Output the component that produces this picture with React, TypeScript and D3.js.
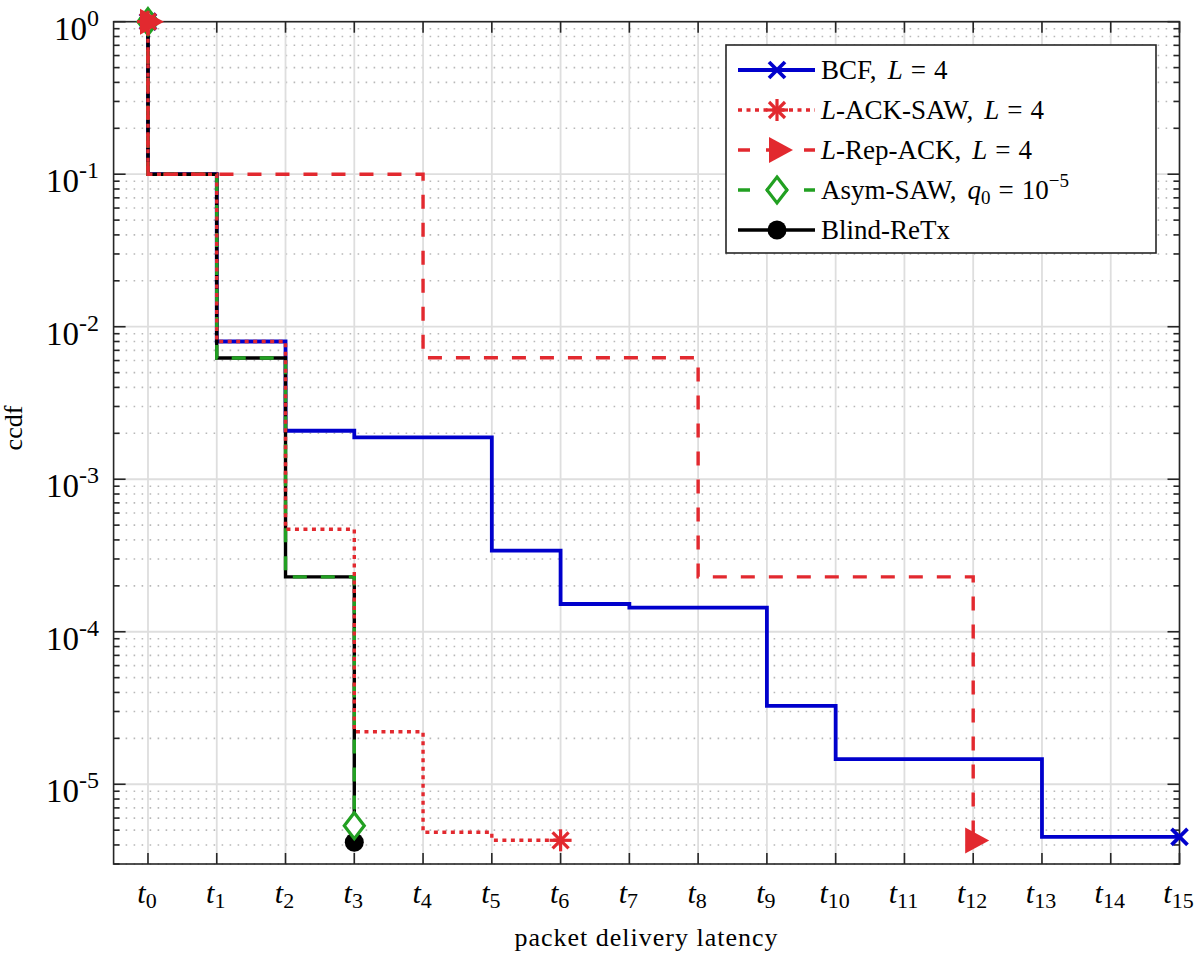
import React from 'react';
import * as d3 from 'd3';

// x tick indices t_0 ... t_15
const xTicks = [0, 1, 2, 3, 4, 5, 6, 7, 8, 9, 10, 11, 12, 13, 14, 15];
// y decades (exponents)
const yDecades = [0, -1, -2, -3, -4, -5];

// ccdf values; each value holds from t_i to t_(i+1); the curve starts at (t_0, 1)
const bcfValues = [0.1, 8.0e-3, 2.08e-3, 1.88e-3, 1.88e-3, 3.4e-4, 1.52e-4, 1.44e-4, 1.44e-4, 3.27e-5, 1.46e-5, 1.46e-5, 1.46e-5, 4.52e-6, 4.52e-6, 4.52e-6];
const lAckSawValues = [0.1, 8.0e-3, 4.7e-4, 2.21e-5, 4.84e-6, 4.29e-6, 4.29e-6];
const lRepAckValues = [0.1, 0.1, 0.1, 0.1, 6.26e-3, 6.26e-3, 6.26e-3, 6.26e-3, 2.29e-4, 2.29e-4, 2.29e-4, 2.29e-4, 4.27e-6];
const asymSawValues = [0.1, 6.24e-3, 2.29e-4, 5.35e-6];
const blindValues = [0.1, 6.24e-3, 2.29e-4, 4.17e-6];

const BLUE = '#0000CC';
const RED = '#E2292F';
const GREEN = '#22A022';
const BLACK = '#000000';
const AXIS = '#262626';

type Marker = 'x' | 'asterisk' | 'triangle' | 'diamond' | 'circle';

interface Series {
  key: string;
  values: number[];
  color: string;
  dash: string | undefined;
  width: number;
  marker: Marker;
}

// drawing order (later on top)
const drawOrder: Series[] = [
  { key: 'bcf', values: bcfValues, color: BLUE, dash: undefined, width: 3.8, marker: 'x' },
  { key: 'blind', values: blindValues, color: BLACK, dash: undefined, width: 3.4, marker: 'circle' },
  { key: 'asym', values: asymSawValues, color: GREEN, dash: '14,14', width: 3.4, marker: 'diamond' },
  { key: 'lack', values: lAckSawValues, color: RED, dash: '4,4.5', width: 3.4, marker: 'asterisk' },
  { key: 'lrep', values: lRepAckValues, color: RED, dash: '14,14', width: 3.4, marker: 'triangle' },
];

function drawMarker(type: Marker, cx: number, cy: number, color: string, k: string) {
  switch (type) {
    case 'x':
      return (
        <g key={k} stroke={color} strokeWidth={3.8} strokeLinecap="butt">
          <line x1={cx - 8} y1={cy - 8} x2={cx + 8} y2={cy + 8} />
          <line x1={cx - 8} y1={cy + 8} x2={cx + 8} y2={cy - 8} />
        </g>
      );
    case 'asterisk':
      return (
        <g key={k} stroke={color} strokeWidth={3.2}>
          <line x1={cx - 11} y1={cy} x2={cx + 11} y2={cy} />
          <line x1={cx} y1={cy - 11} x2={cx} y2={cy + 11} />
          <line x1={cx - 8} y1={cy - 8} x2={cx + 8} y2={cy + 8} />
          <line x1={cx - 8} y1={cy + 8} x2={cx + 8} y2={cy - 8} />
        </g>
      );
    case 'triangle':
      return (
        <polygon key={k} points={`${cx - 8},${cy - 13} ${cx + 16},${cy} ${cx - 8},${cy + 13}`} fill={color} />
      );
    case 'diamond':
      return (
        <polygon
          key={k}
          points={`${cx},${cy - 13} ${cx + 10},${cy} ${cx},${cy + 13} ${cx - 10},${cy}`}
          fill="#ffffff"
          stroke={color}
          strokeWidth={3.2}
        />
      );
    case 'circle':
      return <circle key={k} cx={cx} cy={cy} r={9.5} fill={color} />;
  }
}

export default function App() {
  const W = 1198;
  const H = 953;
  const left = 113.6;
  const right = 1179.5;
  const top = 21.7;
  const bottom = 864;

  const x = d3.scaleLinear().domain([-0.5, 15]).range([left, right]);
  const y = d3.scaleLog().domain([3e-6, 1]).range([bottom, top]);

  const line = d3
    .line<[number, number]>()
    .x((d) => x(d[0]))
    .y((d) => y(d[1]))
    .curve(d3.curveStepAfter);

  const pointsOf = (vals: number[]): [number, number][] => [
    [0, 1] as [number, number],
    ...vals.map((v, i) => [i, v] as [number, number]),
  ];

  // minor y values
  const minorVals: number[] = [];
  for (let d = -6; d <= 0; d++) {
    for (let m = 2; m <= 9; m++) {
      const v = m * Math.pow(10, d);
      if (v > 3e-6 && v < 1) minorVals.push(v);
    }
  }
  minorVals.push(3e-6);

  const serif = "'Liberation Serif', 'DejaVu Serif', 'Times New Roman', serif";

  // legend
  const legX = 726;
  const legY = 45;
  const legW = 430;
  const legH = 208;
  const rowY = [70, 110, 150, 190, 230];
  const lx1 = 738;
  const lx2 = 815;
  const lmx = 777;
  const tx = 821;
  const legendFs = 27;

  const legendSeries: Series[] = [drawOrder[0], drawOrder[3], drawOrder[4], drawOrder[2], drawOrder[1]];

  const eqL = (k: string) => [
    <tspan key={`${k}a`} fontStyle="italic" dx={11}>L</tspan>,
    <tspan key={`${k}b`} dx={8}>=</tspan>,
    <tspan key={`${k}c`} dx={8}>4</tspan>,
  ];

  const legendTexts = [
    <text key="t0" x={tx} y={rowY[0] + 9} fontSize={legendFs} fontFamily={serif}>
      <tspan>BCF,</tspan>
      {eqL('r0')}
    </text>,
    <text key="t1" x={tx} y={rowY[1] + 9} fontSize={legendFs} fontFamily={serif}>
      <tspan fontStyle="italic">L</tspan>
      <tspan>-ACK-SAW,</tspan>
      {eqL('r1')}
    </text>,
    <text key="t2" x={tx} y={rowY[2] + 9} fontSize={legendFs} fontFamily={serif}>
      <tspan fontStyle="italic">L</tspan>
      <tspan>-Rep-ACK,</tspan>
      {eqL('r2')}
    </text>,
    <text key="t3" x={tx} y={rowY[3] + 9} fontSize={legendFs} fontFamily={serif}>
      <tspan>Asym-SAW,</tspan>
      <tspan fontStyle="italic" dx={11}>q</tspan>
      <tspan fontSize={19} dy={5}>0</tspan>
      <tspan dy={-5} dx={8}>=</tspan>
      <tspan dx={8}>10</tspan>
      <tspan fontSize={19} dy={-12}>−5</tspan>
    </text>,
    <text key="t4" x={tx} y={rowY[4] + 9} fontSize={legendFs} fontFamily={serif}>
      Blind-ReTx
    </text>,
  ];

  return (
    <svg
      width={W}
      height={H}
      style={{ position: 'absolute', left: 0, top: 0, background: '#ffffff' }}
      xmlns="http://www.w3.org/2000/svg"
    >
      <rect x={0} y={0} width={W} height={H} fill="#ffffff" />
      {/* minor y grid (dotted) */}
      <g stroke="#b8b8b8" strokeWidth={1.6} strokeDasharray="1.6,6.4">
        {minorVals.map((v, i) => (
          <line key={`mg${i}`} x1={left + 4} x2={right} y1={y(v)} y2={y(v)} />
        ))}
      </g>
      {/* major grid */}
      <g stroke="#dedede" strokeWidth={1.8}>
        {xTicks.map((t) => (
          <line key={`gx${t}`} x1={x(t)} x2={x(t)} y1={top} y2={bottom} />
        ))}
        {yDecades.map((d) => (
          <line key={`gy${d}`} x1={left} x2={right} y1={y(Math.pow(10, d))} y2={y(Math.pow(10, d))} />
        ))}
      </g>

      {/* axes box and ticks */}
      <g stroke={AXIS} strokeWidth={1.6}>
        {xTicks.map((t) => (
          <g key={`tx${t}`}>
            <line x1={x(t)} x2={x(t)} y1={bottom} y2={bottom - 11} />
            <line x1={x(t)} x2={x(t)} y1={top} y2={top + 11} />
          </g>
        ))}
        {yDecades.map((d) => (
          <g key={`ty${d}`}>
            <line x1={left} x2={left + 12} y1={y(Math.pow(10, d))} y2={y(Math.pow(10, d))} />
            <line x1={right} x2={right - 12} y1={y(Math.pow(10, d))} y2={y(Math.pow(10, d))} />
          </g>
        ))}
        {minorVals.map((v, i) => (
          <g key={`mt${i}`}>
            <line x1={left} x2={left + 6} y1={y(v)} y2={y(v)} />
            <line x1={right} x2={right - 6} y1={y(v)} y2={y(v)} />
          </g>
        ))}
        <rect x={left} y={top} width={right - left} height={bottom - top} fill="none" />
      </g>

      {/* series lines */}
      {drawOrder.map((s) => {
        const pts = pointsOf(s.values);
        const first = pts[0];
        const last = pts[pts.length - 1];
        return (
          <g key={s.key}>
            <path
              d={line(pts) || ''}
              fill="none"
              stroke={s.color}
              strokeWidth={s.width}
              strokeDasharray={s.dash}
              strokeLinejoin="miter"
            />
            {drawMarker(s.marker, x(first[0]), y(first[1]), s.color, `${s.key}-m0`)}
            {drawMarker(s.marker, x(last[0]), y(last[1]), s.color, `${s.key}-m1`)}
          </g>
        );
      })}

      {/* y tick labels */}
      {yDecades.map((d) => (
        <text
          key={`yl${d}`}
          x={99}
          y={y(Math.pow(10, d)) + 18}
          textAnchor="end"
          fontFamily={serif}
          fontSize={33}
          fill="#000"
        >
          <tspan>10</tspan>
          <tspan fontSize={24} dy={-14}>
            {d === 0 ? '0' : `-${-d}`}
          </tspan>
        </text>
      ))}

      {/* x tick labels */}
      {xTicks.map((t) => (
        <text
          key={`xl${t}`}
          x={x(t) - 1}
          y={903}
          textAnchor="middle"
          fontFamily={serif}
          fontSize={30}
          fill="#000"
        >
          <tspan fontStyle="italic">t</tspan>
          <tspan fontSize={22} dy={5}>
            {String(t)}
          </tspan>
        </text>
      ))}

      {/* axis labels */}
      <text
        x={(left + right) / 2}
        y={946}
        textAnchor="middle"
        fontFamily={serif}
        fontSize={26}
        letterSpacing={1}
        fill="#000"
      >
        packet delivery latency
      </text>
      <text
        transform={`translate(22, 428) rotate(-90)`}
        textAnchor="middle"
        fontFamily={serif}
        fontSize={26}
        fill="#000"
      >
        ccdf
      </text>

      {/* legend */}
      <rect x={legX} y={legY} width={legW} height={legH} fill="#ffffff" stroke={AXIS} strokeWidth={1.6} />
      {legendSeries.map((s, i) => (
        <g key={`leg${s.key}`}>
          <line
            x1={lx1}
            x2={lx2}
            y1={rowY[i]}
            y2={rowY[i]}
            stroke={s.color}
            strokeWidth={s.width}
            strokeDasharray={s.dash === '14,14' ? '12,16,22,16,12' : s.dash}
          />
          {drawMarker(s.marker, lmx, rowY[i], s.color, `lm${s.key}`)}
        </g>
      ))}
      {legendTexts}
    </svg>
  );
}
